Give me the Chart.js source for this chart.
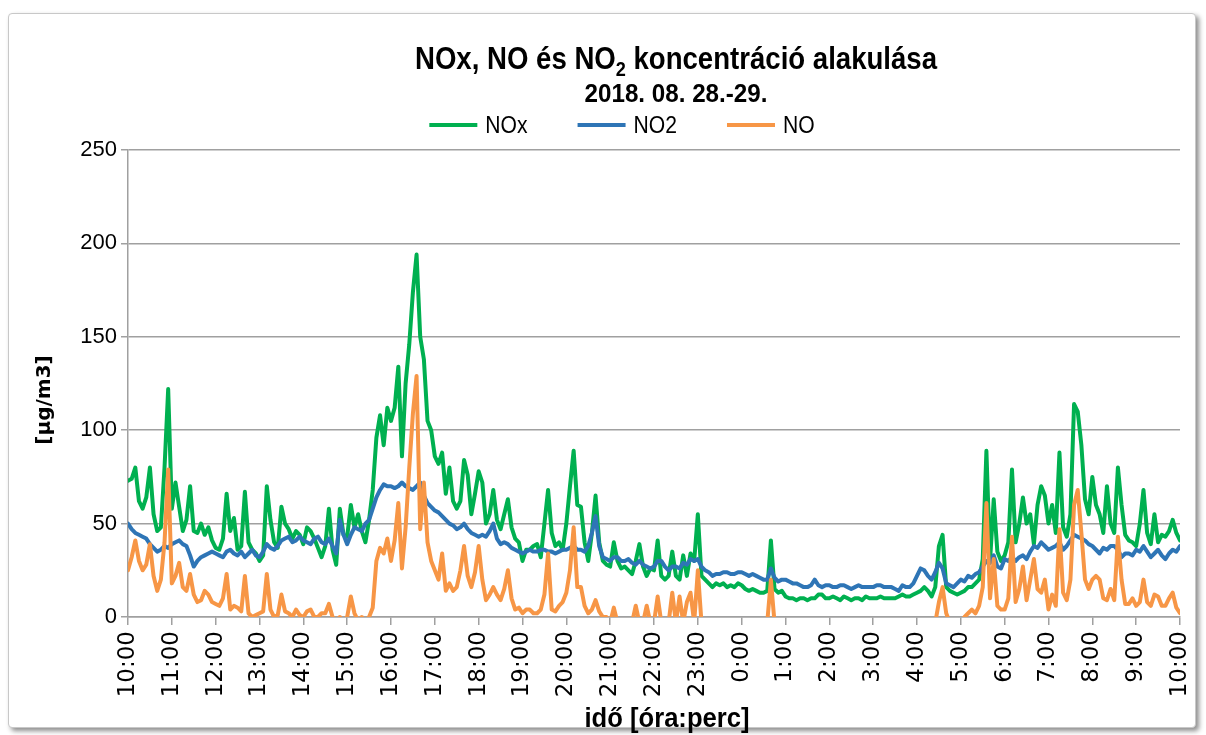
<!DOCTYPE html>
<html>
<head>
<meta charset="utf-8">
<script src="https://cdn.jsdelivr.net/npm/chart.js@4.4.1/dist/chart.umd.min.js"></script>
<style>
  html, body { margin: 0; padding: 0; background: #fff; }
  #frame {
    position: absolute; left: 8px; top: 13px; width: 1186px; height: 713px;
    border: 1px solid #c8c8c8; border-radius: 4px;
    box-shadow: 3px 3px 5px rgba(0,0,0,0.45); background: #fff;
  }
  #wrap { position: absolute; left: 0; top: 0; width: 1206px; height: 735px; }
</style>
</head>
<body>
<div id="frame"></div>
<div id="wrap"><canvas id="chart" width="1206" height="735"></canvas></div>
<script>
// hour tick labels, 10:00 -> 10:00 next day
const hourTicks = ["10:00","11:00","12:00","13:00","14:00","15:00","16:00","17:00","18:00",
  "19:00","20:00","21:00","22:00","23:00","0:00","1:00","2:00","3:00","4:00","5:00",
  "6:00","7:00","8:00","9:00","10:00"];
const minuteSteps = ["00","05","10","15","20","25","30","35","40","45","50","55"];

// readings every 5 minutes (one row = one hour), µg/m3
const noxValues = [
  73,74,80,62,58,64,80,55,46,48,80,122,
  58,72,59,46,52,70,46,45,50,44,48,41,
  37,36,42,66,46,53,36,38,67,40,36,34,
  30,33,70,52,40,37,59,50,47,42,46,44,
  39,48,46,42,37,32,38,58,36,28,58,44,
  43,60,48,55,46,40,52,68,96,108,92,112,
  105,112,134,86,125,146,174,194,150,138,105,100,
  86,82,88,66,80,62,58,62,84,76,55,66,
  78,72,50,55,68,52,47,55,63,48,42,40,
  30,36,36,38,39,32,50,68,45,38,40,36,
  50,70,89,60,59,40,30,45,65,40,30,28,
  27,40,30,26,27,25,23,30,39,27,22,26,
  25,41,22,20,22,35,22,20,33,22,34,30,
  55,22,20,18,16,18,17,18,16,17,16,18,
  17,15,14,15,14,13,13,14,41,15,13,14,
  11,10,10,9,10,10,9,10,10,12,12,10,
  10,11,10,9,11,10,9,10,10,9,11,10,
  10,10,11,10,10,10,10,11,12,11,11,12,
  13,14,16,14,11,16,38,44,16,14,13,12,
  13,14,16,16,18,20,31,89,30,63,35,30,
  33,40,79,40,50,64,50,55,39,60,70,65,
  50,60,45,88,48,43,55,114,110,92,63,55,
  75,60,55,45,70,50,45,80,60,44,41,40,
  38,50,68,45,39,55,40,44,43,46,52,45,
  41
];
const no2Values = [
  50,47,45,44,43,42,39,37,35,36,38,37,
  39,40,41,39,38,33,27,30,32,33,34,35,
  34,33,32,35,36,34,33,35,32,34,36,33,
  32,35,39,37,36,38,41,42,43,40,41,43,
  41,40,39,42,43,40,39,42,38,34,52,44,
  39,44,48,47,46,50,52,58,64,68,71,70,
  70,69,70,72,70,69,68,70,72,65,61,59,
  57,56,54,52,50,49,47,48,50,47,45,44,
  43,44,43,46,50,42,39,40,39,37,36,35,
  34,35,36,35,35,36,36,35,35,34,35,36,
  36,37,38,36,36,35,38,45,54,38,32,31,
  30,32,32,30,30,31,29,28,30,28,27,26,
  27,30,30,27,25,27,27,26,29,28,31,30,
  31,27,25,24,22,23,23,24,24,23,23,24,
  24,23,22,23,22,21,20,20,26,21,19,20,
  20,19,18,18,17,16,16,17,20,17,16,17,
  17,16,16,17,17,16,15,16,17,16,16,16,
  16,17,17,16,16,16,15,14,17,16,16,18,
  22,26,25,22,20,24,29,26,18,17,16,18,
  20,19,22,21,23,24,27,30,29,33,27,26,
  31,30,32,30,32,33,31,35,38,37,40,38,
  36,37,38,40,36,38,41,44,43,42,41,39,
  38,36,34,37,36,38,38,36,32,34,34,33,
  36,35,38,35,32,34,36,33,31,34,36,35,
  38
];
// negative readings fall below the axis and are cut off, as in the original
const noValues = [
  25,32,41,30,25,28,39,22,14,20,40,79,
  18,22,29,16,14,23,12,8,9,14,12,8,
  7,6,10,23,4,6,5,3,22,2,0,1,
  2,3,23,4,0,1,12,3,2,0,4,1,
  0,3,4,0,0,2,2,7,0,-2,0,-2,
  0,11,2,-2,0,-2,0,5,30,37,34,42,
  30,41,61,26,48,80,109,129,47,72,40,30,
  25,20,34,14,18,14,16,25,38,22,16,24,
  38,20,9,12,16,12,9,15,25,10,4,5,
  2,4,4,2,2,4,12,34,4,3,6,8,
  13,25,48,16,16,6,2,4,9,3,0,0,
  -3,5,-3,-3,-3,-3,-3,6,-3,-3,6,-3,
  -3,11,-3,-3,-3,13,-3,11,-3,8,13,-3,
  25,-3,-3,-3,-3,-3,-3,-3,-3,-3,-3,-3,
  -3,-3,-3,-3,-3,-3,-3,-3,20,-3,-3,-3,
  -3,-3,-3,-3,-3,-3,-3,-3,-3,-3,-3,-3,
  -3,-3,-3,-3,-3,-3,-3,-3,-3,-3,-3,-3,
  -3,-3,-3,-3,-3,-3,-3,-3,-3,-3,-3,-3,
  -3,-3,-3,-3,-3,-3,8,16,2,-3,-3,-3,
  -3,0,2,4,2,6,16,61,10,31,6,4,
  4,10,43,8,15,27,9,20,31,15,13,20,
  4,12,6,47,13,9,20,60,68,45,20,15,
  20,22,20,10,9,15,9,43,20,7,7,10,
  6,8,20,8,6,12,11,6,6,10,13,5,
  2
];

const seriesNames = ["NOx", "NO2", "NO"];
const seriesColors = ["#00B050", "#2E75B6", "#F79646"];

const titleStart = "NOx, NO és NO";
const titleSub = "2";
const titleEnd = " koncentráció alakulása";
const subTitle = "2018. 08. 28.-29.";
const xTitle = "idő [óra:perc]";
const yTitle = "[µg/m3]";

const SANS = "'Liberation Sans', Arial, sans-serif";
const GRID = "#a0a0a0";

// category labels: every 5 minutes between the hour ticks
const timeLabels = [];
hourTicks.forEach((h, i) => {
  const hh = h.split(":")[0];
  minuteSteps.forEach(m => {
    if (i < hourTicks.length - 1 || m === "00") timeLabels.push(hh + ":" + m);
  });
});

// draw text squeezed horizontally to a given width (the original uses a narrow face)
function squeezed(ctx, parts, cx, baseY, targetW) {
  let total = 0;
  parts.forEach(p => { ctx.font = p.font; p.w = ctx.measureText(p.text).width; total += p.w; });
  const sx = targetW / total;
  ctx.save();
  ctx.translate(cx - targetW / 2, baseY);
  ctx.scale(sx, 1);
  let x = 0;
  parts.forEach(p => {
    ctx.font = p.font;
    ctx.fillText(p.text, x, p.dy || 0);
    x += p.w;
  });
  ctx.restore();
}

// title, subtitle, legend and axis titles
const headerPlugin = {
  id: "header",
  afterDraw(chart) {
    const ctx = chart.ctx;
    ctx.save();
    ctx.fillStyle = "#000";
    ctx.textAlign = "left";
    ctx.textBaseline = "alphabetic";

    squeezed(ctx, [
      { text: titleStart, font: "bold 32px " + SANS },
      { text: titleSub, font: "bold 21px " + SANS, dy: 7 },
      { text: titleEnd, font: "bold 32px " + SANS }
    ], 676, 69, 522);

    squeezed(ctx, [{ text: subTitle, font: "bold 25px " + SANS }], 676, 102, 183);

    // legend
    const lineLen = 48, gap = 8, between = 50, sx = 0.88;
    ctx.font = "24px " + SANS;
    const widths = seriesNames.map(n => ctx.measureText(n).width * sx);
    let total = 0;
    widths.forEach((w, i) => { total += lineLen + gap + w + (i < widths.length - 1 ? between : 0); });
    let lx = 622 - total / 2;
    const ly = 125;
    seriesNames.forEach((n, i) => {
      ctx.strokeStyle = seriesColors[i];
      ctx.lineWidth = 4;
      ctx.beginPath();
      ctx.moveTo(lx, ly);
      ctx.lineTo(lx + lineLen, ly);
      ctx.stroke();
      ctx.save();
      ctx.translate(lx + lineLen + gap, ly + 8);
      ctx.scale(sx, 1);
      ctx.fillText(n, 0, 0);
      ctx.restore();
      lx += lineLen + gap + widths[i] + between;
    });

    // axis titles
    squeezed(ctx, [{ text: xTitle, font: "bold 27px " + SANS }], 667, 727, 165);

    ctx.save();
    ctx.translate(45, 400);
    ctx.rotate(-Math.PI / 2);
    ctx.font = "bold 20px 'DejaVu Sans'";
    ctx.textAlign = "center";
    ctx.textBaseline = "middle";
    ctx.fillText(yTitle, 0, 0);
    ctx.restore();

    ctx.restore();
  }
};

const datasets = [noxValues, no2Values, noValues].map((vals, i) => ({
  label: seriesNames[i],
  data: vals,
  borderColor: seriesColors[i],
  backgroundColor: seriesColors[i],
  borderWidth: 4,
  order: 3 - i,
  clip: 0
}));

new Chart(document.getElementById("chart"), {
  type: "line",
  data: { labels: timeLabels, datasets: datasets },
  options: {
    responsive: false,
    animation: false,
    layout: { padding: { top: 150, left: 15, right: 26, bottom: 0 } },
    elements: {
      point: { radius: 0 },
      line: { tension: 0, borderJoinStyle: "round", borderCapStyle: "round" }
    },
    plugins: {
      legend: { display: false },
      title: { display: false },
      tooltip: { enabled: false }
    },
    scales: {
      x: {
        type: "category",
        offset: false,
        grid: { drawOnChartArea: false, drawTicks: true, tickLength: 8, color: GRID, lineWidth: 1.5 },
        border: { display: true, color: GRID, width: 1.5 },
        ticks: {
          autoSkip: false,
          maxRotation: 90,
          minRotation: 90,
          padding: 6,
          color: "#000",
          font: { family: "'DejaVu Sans'", size: 23 },
          callback: (v, i) => (i % 12 === 0 ? hourTicks[i / 12] : null)
        },
        afterFit: s => { s.height = 118; s.paddingLeft = 0; s.paddingRight = 0; }
      },
      y: {
        min: 0,
        max: 250,
        ticks: { stepSize: 50, padding: 4, color: "#000", font: { family: SANS, size: 22 } },
        grid: { color: GRID, lineWidth: 1.5, tickLength: 7 },
        border: { display: true, color: GRID, width: 1.5 },
        afterFit: s => { s.width = 113; }
      }
    }
  },
  plugins: [headerPlugin]
});
</script>
</body>
</html>
